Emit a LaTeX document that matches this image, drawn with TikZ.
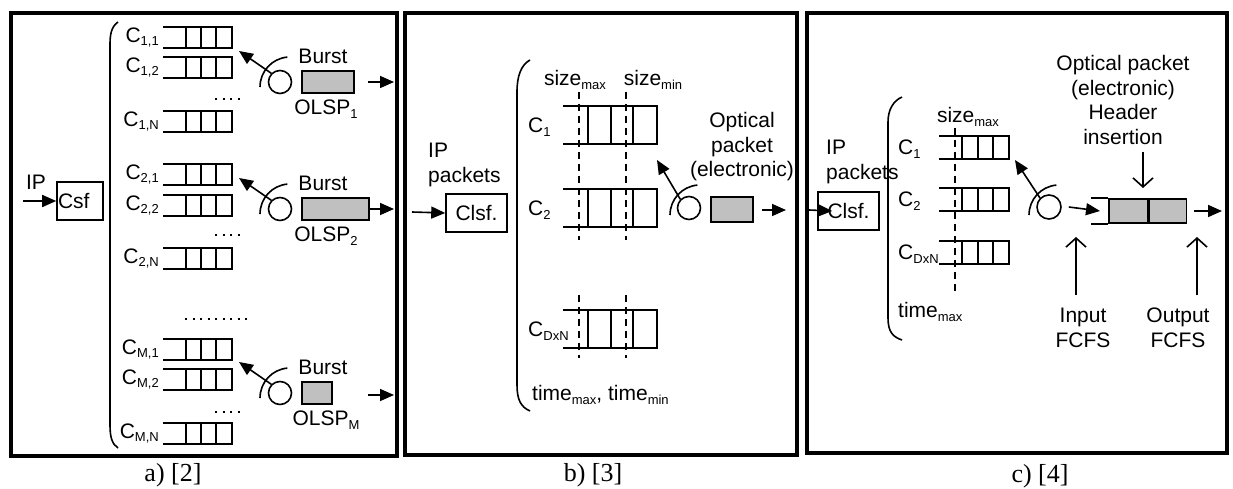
\documentclass[tikz,border=0pt]{standalone}
\usepackage{fontspec}
\setmainfont{Liberation Sans}
\newfontfamily\capfont{Liberation Serif}
\usetikzlibrary{arrows.meta,positioning}
\definecolor{burstgray}{RGB}{192,192,192}
\newcommand{\lowidx}[1]{\raisebox{-3.5pt}{\fontsize{13}{13}\selectfont #1}}

\begin{document}
\begin{tikzpicture}[x=1pt,y=-1pt,
    font=\fontsize{21}{24.5}\selectfont,
    frm/.style={draw, line width=4pt},
    qline/.style={line width=1.6pt},
    sline/.style={line width=1.6pt, dash pattern=on 7pt off 5pt},
    dots/.style={line width=2pt, dash pattern=on 2pt off 5.5pt},
    lbl/.style={inner sep=0pt, align=center},
    qlbl/.style={inner sep=0pt},
    clsbox/.style={draw, line width=1.6pt, minimum width=61pt, minimum height=38pt, inner sep=0pt},
    bbox/.style={draw, line width=1.6pt, fill=burstgray, inner sep=0pt, anchor=west},
    swc/.style={draw, circle, line width=1.6pt, minimum size=23pt, inner sep=0pt},
    farr/.style={-{Triangle[length=14pt,width=12pt]}, line width=1.6pt},
    oarr/.style={-{Straight Barb[length=9pt,width=20pt]}, line width=1.6pt},
    capt/.style={inner sep=0pt, font=\capfont\fontsize{26}{30}\selectfont}
  ]
  \useasboundingbox (0,0) rectangle (1233,489);

  % panel a
  \draw[frm] (11,13) rectangle (397,456);
  \node[clsbox, minimum width=46pt, text width=44pt, align=left] (csf) at (80,201) {Csf};
  \coordinate (ipa) at (23,201);
  \draw[farr] (ipa) -- (csf.west);
  \node[lbl] (ipalbl) at (36,182) {IP};
  \draw[qline] (118,22) .. controls (111,27) and (110,35) .. (110,45) -- (110,425) .. controls (110,437) and (112,444) .. (118,448);
  \foreach \n/\t/\l in {q11/27/{1,1}, q12/57/{1,2}, q1n/111/{1,N}, q21/164/{2,1}, q22/195/{2,2}, q2n/248/{2,N}, qm1/339/{M,1}, qm2/369/{M,2}, qmn/423/{M,N}} {
    \draw[qline] (163,\t) -- (232,\t) -- (232,\t+21) -- (163,\t+21);
    \foreach \c in {186,201,216} \draw[qline] (\c,\t) -- (\c,\t+21);
    \node[qlbl, anchor=east] (\n) at (159,\t+10.5) {C\lowidx{\l}};
  }
  \draw[dots] (215,99) -- (240,99);
  \draw[dots] (215,235) -- (240,235);
  \draw[dots] (185,319) -- (248,319);
  \draw[dots] (215,412) -- (240,412);
  \foreach \g/\y/\w in {1/82/52, 2/209/67, M/393/30} {
    \node[swc] (sw\g) at (280,\y) {};
    \draw[qline] ([shift={(-20,5)}]sw\g.center) arc[start angle=180, end angle=265, radius=30];
    \coordinate (tip\g) at ([shift={(-41,-31)}]sw\g.center);
    \draw[farr] (sw\g.north west) -- (tip\g);
    \node[bbox, minimum width=\w pt, minimum height=22pt] (b\g) at (301,\y) {};
    \node[lbl] (bl\g) at (323,\y-26) {Burst};
    \node[lbl] (ol\g) at (326,\y+27) {OLSP\lowidx{\g}};
  }
  \coordinate (oa1) at (368,82); \coordinate (ob1) at (394,82);
  \draw[farr] (oa1) -- (ob1);
  \coordinate (ob2) at (394,209);
  \draw[farr] (b2.east) -- (ob2);
  \coordinate (oaM) at (368,395); \coordinate (obM) at (394,395);
  \draw[farr] (oaM) -- (obM);

  % panel b
  \draw[frm] (405,13) rectangle (797,455);
  \node[lbl, align=left, anchor=north west] (ipb) at (428,143) {IP\\packets};
  \node[clsbox] (clsb) at (476.5,213) {Clsf.};
  \coordinate (ipbin) at (412,212);
  \draw[farr] (ipbin) -- (clsb.west);
  \draw[qline] (530,60) .. controls (521,65) and (517,76) .. (517,92) -- (517,385) .. controls (517,400) and (521,407) .. (530,411);
  \foreach \n/\t/\l in {cb1/106/1, cb2/189/2, cbd/310/DxN} {
    \draw[qline] (563,\t) -- (657,\t) -- (657,\t+38) -- (563,\t+38);
    \foreach \c in {588,611,633} \draw[qline] (\c,\t) -- (\c,\t+38);
    \node[qlbl, anchor=west] (\n) at (528,\t+21) {C\lowidx{\l}};
  }
  \foreach \c in {579,626} {
    \draw[sline] (\c,92) -- (\c,240);
    \draw[sline] (\c,295) -- (\c,358);
  }
  \node[lbl] (szmaxb) at (575,80) {size\lowidx{max}};
  \node[lbl] (szminb) at (653,80) {size\lowidx{min}};
  \node[qlbl, anchor=west] (tmb) at (532,395) {time\lowidx{max}, time\lowidx{min}};
  \node[swc] (swb) at (689,208) {};
  \draw[qline] ([shift={(-19,7)}]swb.center) arc[start angle=180, end angle=265, radius=30];
  \coordinate (tipb) at ([shift={(-32,-48)}]swb.center);
  \draw[farr] (swb.north west) -- (tipb);
  \node[bbox, minimum width=42pt, minimum height=25pt] (pktb) at (710,209.5) {};
  \node[lbl] (optb) at (742,147) {Optical\\packet\\(electronic)};
  \coordinate (oab) at (762,210); \coordinate (obb) at (786,210);
  \draw[farr] (oab) -- (obb);

  % panel c
  \draw[frm] (807,13) rectangle (1227,453);
  \node[lbl, align=left, anchor=north west] (ipc) at (826,140) {IP\\packets};
  \node[clsbox] (clsc) at (848.5,211) {Clsf.};
  \coordinate (ipcin) at (809,210);
  \draw[farr] (ipcin) -- ([xshift=15pt]clsc.west);
  \draw[qline] (902,97) .. controls (893,101) and (888,110) .. (888,122) -- (888,318) .. controls (888,332) and (893,337) .. (902,340);
  \foreach \n/\t/\l in {cc1/136/1, cc2/188/2, ccd/241/DxN} {
    \draw[qline] (939,\t) -- (1009,\t) -- (1009,\t+23) -- (939,\t+23);
    \foreach \c in {962,978,993} \draw[qline] (\c,\t) -- (\c,\t+23);
    \node[qlbl, anchor=west] (\n) at (898,\t+13) {C\lowidx{\l}};
  }
  \draw[sline] (955,128) -- (955,295);
  \node[lbl] (szmaxc) at (968,117) {size\lowidx{max}};
  \node[qlbl, anchor=west] (tmc) at (898,312) {time\lowidx{max}};
  \node[swc, minimum size=24pt] (swcc) at (1049,207) {};
  \draw[qline] ([shift={(-20,8)}]swcc.center) arc[start angle=180, end angle=265, radius=30];
  \coordinate (tipc) at ([shift={(-34,-47)}]swcc.center);
  \draw[farr] (swcc.north west) -- (tipc);
  \node[bbox, minimum width=39pt, minimum height=24pt] (hc1) at (1108,211) {};
  \node[bbox, minimum width=37pt, minimum height=24pt] (hc2) at (hc1.east) {};
  \draw[qline] ([xshift=-17pt]hc1.north west) -- (hc1.north west);
  \draw[qline] ([xshift=-17pt]hc1.south west) -- (hc1.south west);
  \coordinate (qin) at (1100,211);
  \draw[farr] ([xshift=7pt]swcc.east) -- (qin);
  \coordinate (qout) at (1222,211);
  \draw[farr] ([xshift=7pt]hc2.east) -- (qout);
  \node[lbl] (hdr) at (1123,100) {Optical packet\\(electronic)\\Header\\insertion};
  \coordinate (hdrtop) at (1143,152); \coordinate (hdrbot) at (1143,188);
  \draw[oarr] (hdrtop) -- (hdrbot);
  \node[lbl] (inlbl) at (1083,328) {Input\\FCFS};
  \node[lbl] (outlbl) at (1178,328) {Output\\FCFS};
  \coordinate (inbot) at (1076,295); \coordinate (intop) at (1076,237);
  \draw[oarr] (inbot) -- (intop);
  \coordinate (outbot) at (1197,295); \coordinate (outtop) at (1197,237);
  \draw[oarr] (outbot) -- (outtop);

  % captions
  \node[capt] (capa) at (173,475) {a) [2]};
  \node[capt] (capb) at (593,475) {b) [3]};
  \node[capt] (capc) at (1040,476) {c) [4]};
\end{tikzpicture}
\end{document}
